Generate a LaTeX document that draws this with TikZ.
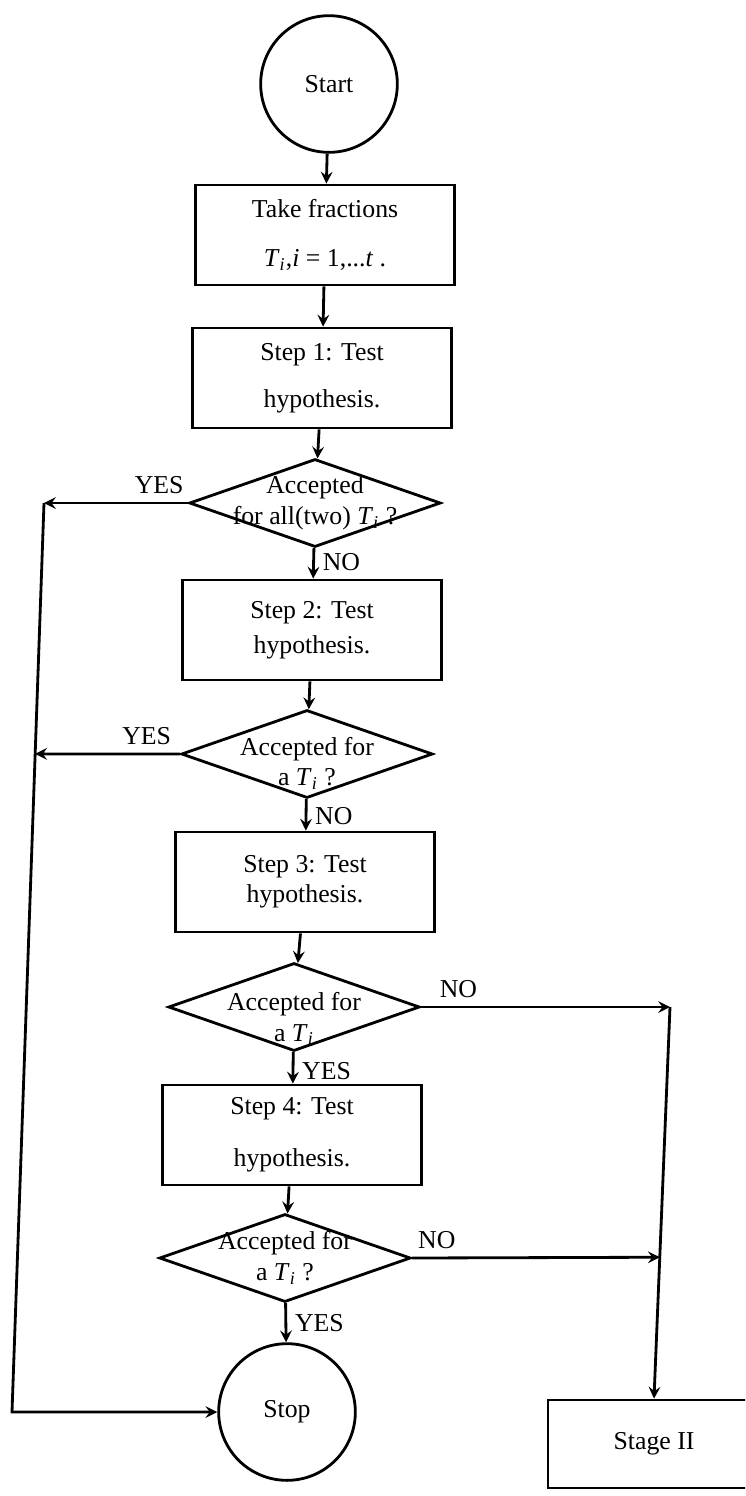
\documentclass[tikz,border=0pt]{standalone}
\usepackage{fontspec}
\setmainfont{Liberation Serif}
\usetikzlibrary{shapes.geometric,calc}

\newcommand{\Ti}{\textit{T}\textsubscript{\textit{i}}}

\tikzset{
  box/.style={draw, line width=1.2pt, minimum width=3.88cm, minimum height=1.5cm, align=center},
  term/.style={draw, circle, line width=1.2pt, minimum size=2.05cm},
  test/.style={draw, diamond, line width=1.2pt, minimum width=3.77cm, minimum height=1.32cm, inner sep=0pt},
  flow/.style={->, >=stealth, line width=1.2pt},
}

\begin{document}
\begin{tikzpicture}[x=0.015cm, y=-0.015cm, font=\fontsize{11}{13}\selectfont]
    \useasboundingbox (0,0) rectangle (745,1496);
    \clip (0,0) rectangle (745,1496);

    \path (329,  84) node [term] (start) {Start};
    \path (325, 235) node [box]  (take)  {Take fractions\\[8pt]\Ti,\textit{i} = 1,...\textit{t} .};
    \path (322, 378) node [box]  (step1) {Step 1: Test\\[7pt]hypothesis.};
    \path (315, 503) node [test, label={[align=center]center:Accepted\\for all(two) \Ti\ ?}] (d1) {};
    \path (312, 630) node [box]  (step2) {Step 2: Test\\[2pt]hypothesis.};
    \path (307, 754) node [test, label={[align=center,yshift=-4pt]center:Accepted for\\a \Ti\ ?}] (d2) {};
    \path (305, 882) node [box]  (step3) {Step 3: Test\\hypothesis.};
    \path (294,1007) node [test, label={[align=center,yshift=-5pt]center:Accepted for\\a \Ti}] (d3) {};
    \path (292,1135) node [box]  (step4) {Step 4: Test\\[9pt]hypothesis.};
    \path (285,1258) node [test, label={[align=center]center:Accepted for\\a \Ti\ ?}] (d4) {};
    \path (287,1412) node [term] (stop)  {Stop};
    \path (654,1444) node [draw, line width=1.2pt, minimum width=3.18cm, minimum height=1.32cm] (stage) {Stage II};

    \coordinate (ltop) at ( 44, 503);
    \coordinate (lbot) at ( 12,1412);
    \coordinate (lmid) at ($(ltop)!0.276!(lbot)$);
    \coordinate (rtop) at (670,1007);
    \coordinate (rmid) at ($(rtop)!0.639!(stage.north)$);

    % main column
    \draw [flow] (start) -- (take);
    \draw [flow] (take)  -- (step1);
    \draw [flow] (step1) -- (d1);
    \draw [flow] (d1)    -- (step2) node [pos=.45,right] {NO};
    \draw [flow] (step2) -- (d2);
    \draw [flow] (d2)    -- (step3) node [pos=.55,right] {NO};
    \draw [flow] (step3) -- (d3);
    \draw [flow] (d3)    -- (step4) node [pos=.6,right] {YES};
    \draw [flow] (step4) -- (d4);
    \draw [flow] (d4)    -- (stop)  node [pos=.5,right] {YES};

    % YES branches to the left
    \draw [flow] (d1.west) -- (ltop) node [pos=.2,above] {YES};
    \draw [flow] (d2.west) -- (lmid) node [pos=.23,above] {YES};
    \draw [flow] (ltop) -- (lbot) -- (stop.west);

    % NO branches to the right
    \draw [flow] (d3.east) -- (rtop) node [pos=.15,above] {NO};
    \draw [flow] (d4.east) -- (rmid) node [pos=.1,above] {NO};
    \draw [flow] (rtop) -- (stage.north);
\end{tikzpicture}
\end{document}
